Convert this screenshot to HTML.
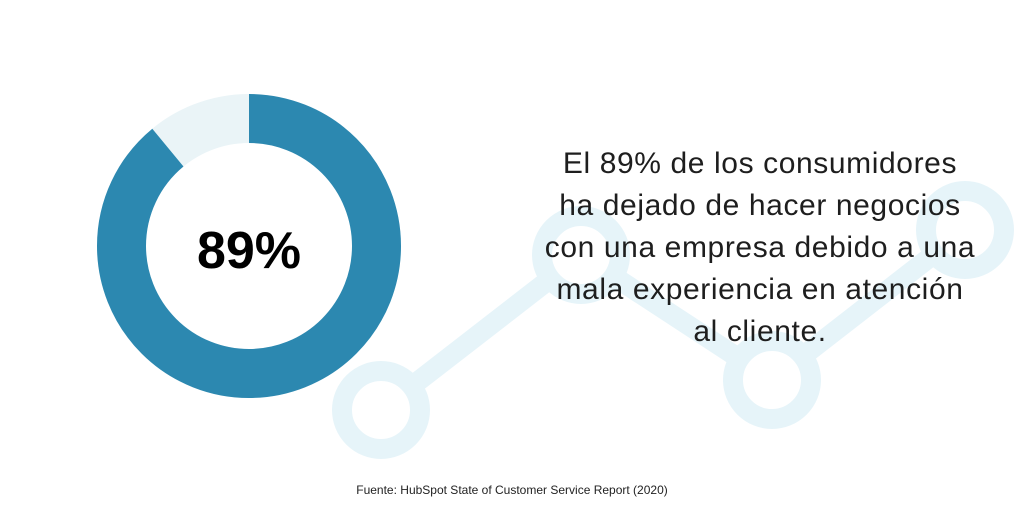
<!DOCTYPE html>
<html><head><style>
body{margin:0;width:1024px;height:512px;background:#fff;overflow:hidden;position:relative;font-family:"Liberation Sans",sans-serif}
svg{position:absolute;left:0;top:0}
.t{position:absolute;left:500px;width:520px;top:143px;text-align:center;font-size:30px;line-height:42px;color:#1e1e1e;letter-spacing:0.6px}
.s{position:absolute;left:0;width:1024px;top:483px;text-align:center;font-size:12px;color:#222}
</style></head><body>
<svg width="1024" height="512">
<g stroke="#e6f4f9" stroke-width="20" fill="none">
<line x1="381" y1="410" x2="581" y2="255"/>
<line x1="581" y1="255" x2="772" y2="380"/>
<line x1="772" y1="380" x2="965" y2="230"/>
<circle cx="381" cy="410" r="39" fill="#fff"/>
<circle cx="581" cy="255" r="39" fill="#fff"/>
<circle cx="772" cy="380" r="39" fill="#fff"/>
<circle cx="965" cy="230" r="39" fill="#fff"/>
</g>
<circle cx="249" cy="246" r="127.5" fill="none" stroke="#eaf4f7" stroke-width="49"/>
<circle cx="249" cy="246" r="127.5" fill="none" stroke="#2c88b0" stroke-width="49" stroke-dasharray="712.9 900" transform="rotate(-90 249 246)"/>
<text x="249" y="268" text-anchor="middle" font-family="Liberation Sans" font-weight="bold" font-size="52" fill="#000">89%</text>
</svg>
<div class="t">El 89% de los consumidores<br>ha dejado de hacer negocios<br>con una empresa debido a una<br>mala experiencia en atención<br>al cliente.</div>
<div class="s">Fuente: HubSpot State of Customer Service Report (2020)</div>
</body></html>
